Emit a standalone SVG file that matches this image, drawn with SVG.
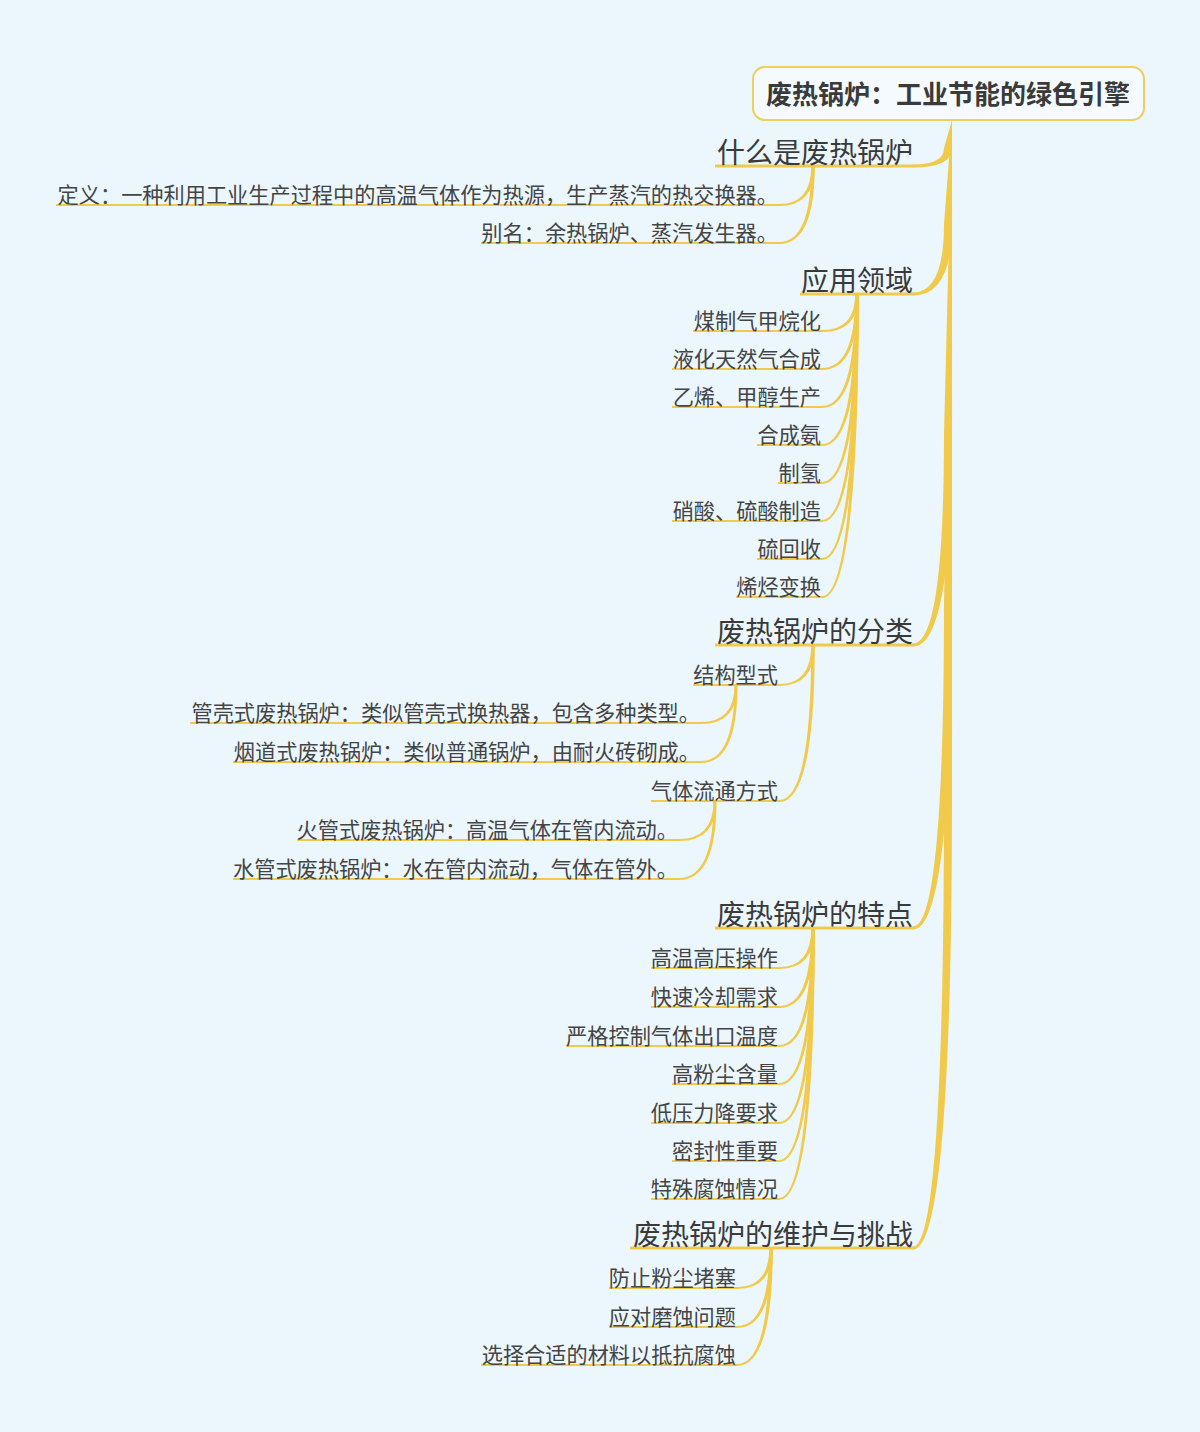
<svg xmlns="http://www.w3.org/2000/svg" width="1200" height="1432" viewBox="0 0 1200 1432">
<style>
.bg{fill:#ebf7fd}
.root{fill:#f4fafd;stroke:#f0cd5c;stroke-width:2}
.rt{font-family:"Noto Sans CJK SC","Noto Sans",sans-serif;font-size:26px;font-weight:bold;fill:#3a3a3a;text-anchor:middle}
.t1{font-family:"Noto Sans CJK SC","Noto Sans",sans-serif;font-size:28px;fill:#3a3a3a;text-anchor:end}
.t2{font-family:"Noto Sans CJK SC","Noto Sans",sans-serif;font-size:21.2px;fill:#444;text-anchor:end}
.u1{stroke:#f1ca4b;stroke-width:3;fill:none}
.u2{stroke:#f1ca4b;stroke-width:2;fill:none}
.c{fill:#f1ca4b;stroke:none}
</style>
<rect class="bg" x="0" y="0" width="1200" height="1432"/>
<g id="connectors">
<path class="c" d="M952 120 L952 148 Q952 167.5 913 167.5 L913 164.5 Q944 164.5 944 148Z"/>
<path class="c" d="M952 120 L952 224 Q952 295.5 913 295.5 L913 292.5 Q944 292.5 944 224Z"/>
<path class="c" d="M952 120 L952 434 Q952 646.5 913 646.5 L913 643.5 Q944 643.5 944 434Z"/>
<path class="c" d="M952 120 L952 605 Q952 929.5 913 929.5 L913 926.5 Q944 926.5 944 605Z"/>
<path class="c" d="M952 120 L952 797 Q952 1249.5 913 1249.5 L913 1246.5 Q944 1246.5 944 797Z"/>
<path class="c" d="M814.75 166 Q814.75 206 779 206 L779 204 Q811.25 204 811.25 166Z"/>
<path class="c" d="M814.75 166 Q814.75 244 779 244 L779 242 Q811.25 242 811.25 166Z"/>
<path class="c" d="M858.75 294 Q858.75 332 822 332 L822 330 Q855.25 330 855.25 294Z"/>
<path class="c" d="M858.75 294 Q858.75 370 822 370 L822 368 Q855.25 368 855.25 294Z"/>
<path class="c" d="M858.75 294 Q858.75 408 822 408 L822 406 Q855.25 406 855.25 294Z"/>
<path class="c" d="M858.75 294 Q858.75 446 822 446 L822 444 Q855.25 444 855.25 294Z"/>
<path class="c" d="M858.75 294 Q858.75 484 822 484 L822 482 Q855.25 482 855.25 294Z"/>
<path class="c" d="M858.75 294 Q858.75 522 822 522 L822 520 Q855.25 520 855.25 294Z"/>
<path class="c" d="M858.75 294 Q858.75 560 822 560 L822 558 Q855.25 558 855.25 294Z"/>
<path class="c" d="M858.75 294 Q858.75 598 822 598 L822 596 Q855.25 596 855.25 294Z"/>
<path class="c" d="M814.75 645 Q814.75 686 779 686 L779 684 Q811.25 684 811.25 645Z"/>
<path class="c" d="M814.75 645 Q814.75 802 779 802 L779 800 Q811.25 800 811.25 645Z"/>
<path class="c" d="M737.5 685 Q737.5 724 701 724 L701 722 Q734.5 722 734.5 685Z"/>
<path class="c" d="M737.5 685 Q737.5 763 701 763 L701 761 Q734.5 761 734.5 685Z"/>
<path class="c" d="M716.5 801 Q716.5 841 679 841 L679 839 Q713.5 839 713.5 801Z"/>
<path class="c" d="M716.5 801 Q716.5 880 679 880 L679 878 Q713.5 878 713.5 801Z"/>
<path class="c" d="M814.75 928 Q814.75 969 779 969 L779 967 Q811.25 967 811.25 928Z"/>
<path class="c" d="M814.75 928 Q814.75 1008 779 1008 L779 1006 Q811.25 1006 811.25 928Z"/>
<path class="c" d="M814.75 928 Q814.75 1047 779 1047 L779 1045 Q811.25 1045 811.25 928Z"/>
<path class="c" d="M814.75 928 Q814.75 1085 779 1085 L779 1083 Q811.25 1083 811.25 928Z"/>
<path class="c" d="M814.75 928 Q814.75 1124 779 1124 L779 1122 Q811.25 1122 811.25 928Z"/>
<path class="c" d="M814.75 928 Q814.75 1162 779 1162 L779 1160 Q811.25 1160 811.25 928Z"/>
<path class="c" d="M814.75 928 Q814.75 1200 779 1200 L779 1198 Q811.25 1198 811.25 928Z"/>
<path class="c" d="M772.75 1248 Q772.75 1289 737 1289 L737 1287 Q769.25 1287 769.25 1248Z"/>
<path class="c" d="M772.75 1248 Q772.75 1328 737 1328 L737 1326 Q769.25 1326 769.25 1248Z"/>
<path class="c" d="M772.75 1248 Q772.75 1366 737 1366 L737 1364 Q769.25 1364 769.25 1248Z"/>
</g>
<g id="root">
<rect class="root" x="753" y="67" width="391" height="53" rx="12"/>
<text class="rt" x="948" y="104">废热锅炉：工业节能的绿色引擎</text>
</g>
<g id="n1"><line class="u1" x1="715" y1="166" x2="914" y2="166"/><text class="t1" x="913" y="163">什么是废热锅炉</text></g>
<g id="n1a"><line class="u2" x1="56" y1="205" x2="780" y2="205"/><text class="t2" x="778" y="203">定义：一种利用工业生产过程中的高温气体作为热源，生产蒸汽的热交换器。</text></g>
<g id="n1b"><line class="u2" x1="481" y1="243" x2="780" y2="243"/><text class="t2" x="778" y="241">别名：余热锅炉、蒸汽发生器。</text></g>
<g id="n2"><line class="u1" x1="800" y1="294" x2="914" y2="294"/><text class="t1" x="913" y="291">应用领域</text></g>
<g id="n2a"><line class="u2" x1="693" y1="331" x2="823" y2="331"/><text class="t2" x="821" y="329">煤制气甲烷化</text></g>
<g id="n2b"><line class="u2" x1="672" y1="369" x2="823" y2="369"/><text class="t2" x="821" y="367">液化天然气合成</text></g>
<g id="n2c"><line class="u2" x1="672" y1="407" x2="823" y2="407"/><text class="t2" x="821" y="405">乙烯、甲醇生产</text></g>
<g id="n2d"><line class="u2" x1="757" y1="445" x2="823" y2="445"/><text class="t2" x="821" y="443">合成氨</text></g>
<g id="n2e"><line class="u2" x1="778" y1="483" x2="823" y2="483"/><text class="t2" x="821" y="481">制氢</text></g>
<g id="n2f"><line class="u2" x1="672" y1="521" x2="823" y2="521"/><text class="t2" x="821" y="519">硝酸、硫酸制造</text></g>
<g id="n2g"><line class="u2" x1="757" y1="559" x2="823" y2="559"/><text class="t2" x="821" y="557">硫回收</text></g>
<g id="n2h"><line class="u2" x1="736" y1="597" x2="823" y2="597"/><text class="t2" x="821" y="595">烯烃变换</text></g>
<g id="n3"><line class="u1" x1="715" y1="645" x2="914" y2="645"/><text class="t1" x="913" y="642">废热锅炉的分类</text></g>
<g id="n3a"><line class="u2" x1="693" y1="685" x2="780" y2="685"/><text class="t2" x="778" y="683">结构型式</text></g>
<g id="n3a1"><line class="u2" x1="190" y1="723" x2="702" y2="723"/><text class="t2" x="700" y="721">管壳式废热锅炉：类似管壳式换热器，包含多种类型。</text></g>
<g id="n3a2"><line class="u2" x1="233" y1="762" x2="702" y2="762"/><text class="t2" x="700" y="760">烟道式废热锅炉：类似普通锅炉，由耐火砖砌成。</text></g>
<g id="n3b"><line class="u2" x1="651" y1="801" x2="780" y2="801"/><text class="t2" x="778" y="799">气体流通方式</text></g>
<g id="n3b1"><line class="u2" x1="297" y1="840" x2="680" y2="840"/><text class="t2" x="678" y="838">火管式废热锅炉：高温气体在管内流动。</text></g>
<g id="n3b2"><line class="u2" x1="233" y1="879" x2="680" y2="879"/><text class="t2" x="678" y="877">水管式废热锅炉：水在管内流动，气体在管外。</text></g>
<g id="n4"><line class="u1" x1="715" y1="928" x2="914" y2="928"/><text class="t1" x="913" y="925">废热锅炉的特点</text></g>
<g id="n4a"><line class="u2" x1="651" y1="968" x2="780" y2="968"/><text class="t2" x="778" y="966">高温高压操作</text></g>
<g id="n4b"><line class="u2" x1="651" y1="1007" x2="780" y2="1007"/><text class="t2" x="778" y="1005">快速冷却需求</text></g>
<g id="n4c"><line class="u2" x1="566" y1="1046" x2="780" y2="1046"/><text class="t2" x="778" y="1044">严格控制气体出口温度</text></g>
<g id="n4d"><line class="u2" x1="672" y1="1084" x2="780" y2="1084"/><text class="t2" x="778" y="1082">高粉尘含量</text></g>
<g id="n4e"><line class="u2" x1="651" y1="1123" x2="780" y2="1123"/><text class="t2" x="778" y="1121">低压力降要求</text></g>
<g id="n4f"><line class="u2" x1="672" y1="1161" x2="780" y2="1161"/><text class="t2" x="778" y="1159">密封性重要</text></g>
<g id="n4g"><line class="u2" x1="651" y1="1199" x2="780" y2="1199"/><text class="t2" x="778" y="1197">特殊腐蚀情况</text></g>
<g id="n5"><line class="u1" x1="630" y1="1248" x2="914" y2="1248"/><text class="t1" x="913" y="1245">废热锅炉的维护与挑战</text></g>
<g id="n5a"><line class="u2" x1="609" y1="1288" x2="738" y2="1288"/><text class="t2" x="736" y="1286">防止粉尘堵塞</text></g>
<g id="n5b"><line class="u2" x1="609" y1="1327" x2="738" y2="1327"/><text class="t2" x="736" y="1325">应对磨蚀问题</text></g>
<g id="n5c"><line class="u2" x1="481" y1="1365" x2="738" y2="1365"/><text class="t2" x="736" y="1363">选择合适的材料以抵抗腐蚀</text></g>
</svg>
